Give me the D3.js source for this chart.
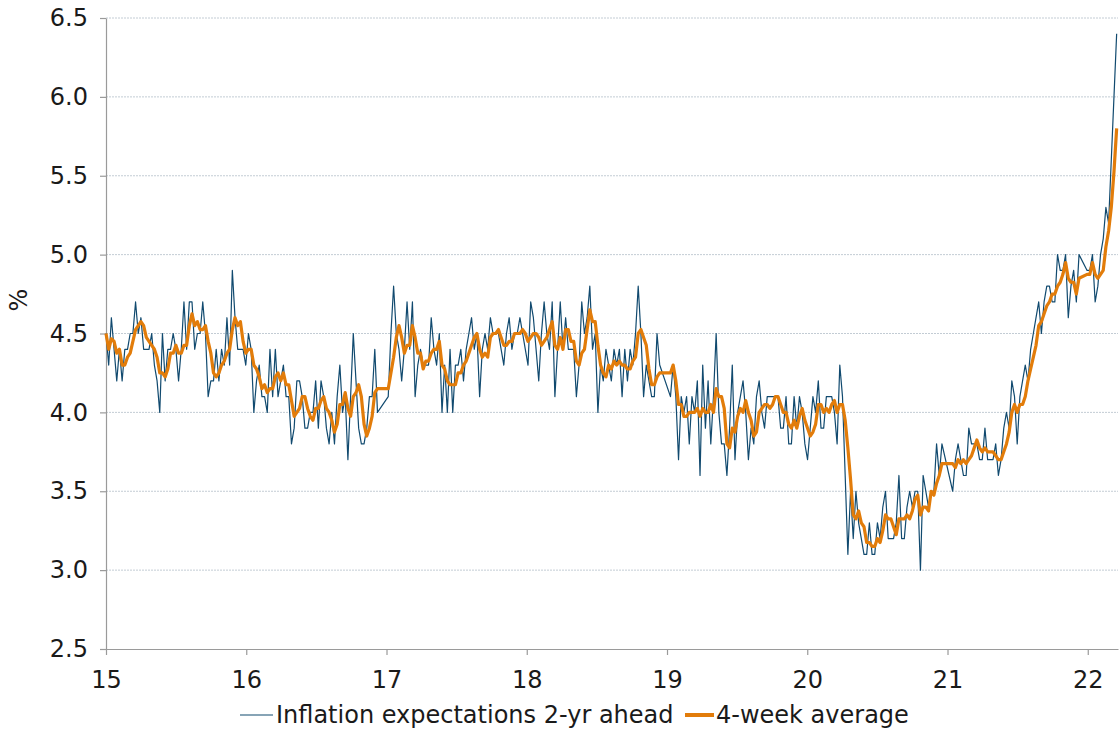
<!DOCTYPE html>
<html><head><meta charset="utf-8">
<script src="https://cdn.jsdelivr.net/npm/d3@7"></script>
<style>
body{margin:0;background:#fff;}
svg text{font-family:"DejaVu Sans",Verdana,sans-serif;fill:#1a1a1a;}
</style></head><body>
<svg id="c" width="1120" height="731"></svg>
<script>
// ---- data ----
const startYear = 15;               // first weekly observation at start of 2015
const weeksPerYear = 365.25 / 7;
const xTickYears = [15, 16, 17, 18, 19, 20, 21, 22];
const yTickValues = [2.5, 3.0, 3.5, 4.0, 4.5, 5.0, 5.5, 6.0, 6.5];
const seriesLabel = "Inflation expectations 2-yr ahead";
const averageLabel = "4-week average";
const averageWindow = 4;
const yAxisTitle = "%";
// weekly survey readings (null = week not published)
const expectations = [
 4.5,4.3,4.6,4.4,4.2,4.4,4.2,4.4,4.4,4.5, 4.5,4.7,4.5,4.6,4.4,4.4,4.4,4.5,4.3,4.2,
 4.0,4.5,4.2,4.4,4.4,4.5,4.4,4.2,4.4,4.7, 4.4,4.7,4.7,4.4,4.5,4.5,4.7,4.5,4.1,4.2,
 4.2,4.4,4.2,4.4,4.3,4.6,4.3,4.9,4.6,4.4, 4.4,4.4,4.3,4.5,4.4,4.0,4.2,4.3,4.1,4.1,
 4.0,4.4,4.1,4.4,4.1,4.2,4.3,4.1,4.1,3.8, 3.9,4.2,4.2,4.1,3.9,3.9,4.0,4.0,4.2,3.9,
 4.2,4.1,3.9,3.8,4.0,3.8,4.1,4.3,4.0,4.1, 3.7,4.1,4.5,4.2,3.9,3.8,3.8,3.9,4.1,4.1,
 4.4,4.0,null,null,null,4.1,4.5,4.8,4.5,4.4, 4.2,4.4,4.7,4.4,4.7,4.1,4.3,4.4,4.3,4.3,
 4.3,4.6,4.4,4.3,4.5,4.0,4.3,4.0,4.4,4.0, 4.3,4.3,4.4,4.2,4.4,4.5,4.6,4.4,4.5,4.1,
 4.4,4.5,4.4,4.6,4.5,4.5,4.5,4.4,4.3,4.5, 4.6,4.4,4.5,4.5,4.6,4.5,4.4,4.3,4.7,4.6,
 4.4,4.2,4.5,4.7,4.5,4.4,4.7,4.1,4.4,4.7, 4.4,4.6,4.4,4.4,4.4,4.1,4.3,4.7,4.5,4.6,
 4.8,4.4,4.5,4.0,4.3,4.2,4.4,4.3,4.2,4.4, 4.3,4.4,4.1,4.4,4.2,4.4,4.3,4.5,4.8,4.5,
 4.1,4.3,4.2,4.1,4.1,4.5,4.3,null,null,null, 4.1,4.3,4.1,3.7,4.1,4.0,4.1,3.8,4.1,4.0,
 4.2,3.6,4.3,3.9,4.2,3.8,4.1,4.5,4.0,3.8, 3.8,3.6,3.9,4.3,3.7,4.0,4.1,4.2,4.0,3.7,
 3.9,3.8,4.1,4.2,4.0,3.9,4.1,4.1,4.1,4.1, 4.1,3.9,3.9,4.1,3.8,3.8,4.1,3.9,4.1,4.0,
 3.8,3.7,3.9,4.1,4.0,4.2,3.9,3.9,4.1,4.1, 4.1,4.0,3.8,4.3,4.1,3.6,3.1,3.5,3.2,3.5,
 3.3,3.2,3.1,3.1,3.3,3.1,3.1,3.3,3.2,3.4, 3.5,3.2,3.2,3.2,3.3,3.6,3.2,3.2,3.4,3.5,
 3.4,3.5,3.5,3.0,3.6,3.5,3.4,3.5,3.5,3.8, 3.6,3.8,null,null,null,3.5,3.7,3.8,3.7,3.6,
 3.6,3.9,3.8,3.8,3.8,3.7,3.7,3.9,3.7,3.7, 3.7,3.8,3.6,3.7,3.9,4.0,3.9,4.2,4.1,3.8,
 4.1,4.2,4.3,4.2,4.4,4.5,4.6,4.7,4.5,4.7, 4.8,4.8,4.7,4.7,5.0,4.9,4.9,5.0,4.6,4.8,
 4.9,4.7,5.0,null,null,4.9,4.9,5.0,4.7,4.8, 5.0,5.1,5.3,5.2,5.6,6.0,6.4
];

// ---- layout ----
const m = {left: 106, right: 1118, top: 18, bottom: 649};
const blue = "#114a6f", orange = "#e27c0a";
const svg = d3.select("#c");

const obs = expectations
  .map((v, i) => ({t: startYear + i / weeksPerYear, v}))
  .filter(d => d.v != null);
const avg = obs.map((d, i) => ({
  t: d.t,
  v: d3.mean(obs.slice(Math.max(0, i - averageWindow + 1), i + 1), e => e.v)
}));

const x = d3.scaleLinear()
  .domain([startYear, startYear + (expectations.length - 0.5) / weeksPerYear])
  .range([m.left, m.right]);
const y = d3.scaleLinear().domain([2.5, 6.5]).range([m.bottom, m.top]);

// gridlines
svg.append("g").selectAll("line").data(yTickValues.filter(v => v > 2.5)).join("line")
  .attr("x1", m.left).attr("x2", m.right)
  .attr("y1", d => y(d)).attr("y2", d => y(d))
  .attr("stroke", "#c3ccd4").attr("stroke-width", 1)
  .attr("stroke-dasharray", "2,1");

// axes
const fs = 24;
const yAxis = svg.append("g").attr("transform", `translate(${m.left},0)`)
  .call(d3.axisLeft(y).tickValues(yTickValues).tickFormat(d3.format(".1f"))
    .tickSize(6).tickSizeOuter(0).tickPadding(12));
const xAxis = svg.append("g").attr("transform", `translate(0,${m.bottom})`)
  .call(d3.axisBottom(x).tickValues(xTickYears).tickFormat(d3.format("d"))
    .tickSize(6).tickSizeOuter(0).tickPadding(16));
[yAxis, xAxis].forEach(g => {
  g.select(".domain").attr("stroke", "#9a9a9a").attr("stroke-width", 1.2);
  g.selectAll(".tick line").attr("stroke", "#9a9a9a").attr("stroke-width", 1.2);
  g.selectAll(".tick text").attr("font-size", fs).attr("font-family", "DejaVu Sans, Verdana, sans-serif").attr("fill", "#1a1a1a");
});

svg.append("text").attr("transform", `translate(27,300) rotate(-90)`)
  .attr("text-anchor", "middle").attr("font-size", fs).text(yAxisTitle);

// lines
const line = d3.line().x(d => x(d.t)).y(d => y(d.v));
svg.append("path").datum(obs).attr("d", line)
  .attr("fill", "none").attr("stroke", blue).attr("stroke-width", 1.2)
  .attr("stroke-linejoin", "round");
svg.append("path").datum(avg).attr("d", line)
  .attr("fill", "none").attr("stroke", orange).attr("stroke-width", 3.2)
  .attr("stroke-linejoin", "round");

// legend
const lg = svg.append("g");
const ly = 715;
lg.append("line").attr("x1", 240).attr("x2", 273).attr("y1", ly).attr("y2", ly)
  .attr("stroke", blue).attr("stroke-width", 1.2);
lg.append("text").attr("x", 276).attr("y", ly + 8).attr("font-size", fs).text(seriesLabel);
lg.append("line").attr("x1", 685).attr("x2", 714).attr("y1", ly).attr("y2", ly)
  .attr("stroke", orange).attr("stroke-width", 4);
lg.append("text").attr("x", 716).attr("y", ly + 8).attr("font-size", fs).text(averageLabel);
</script>
</body></html>
